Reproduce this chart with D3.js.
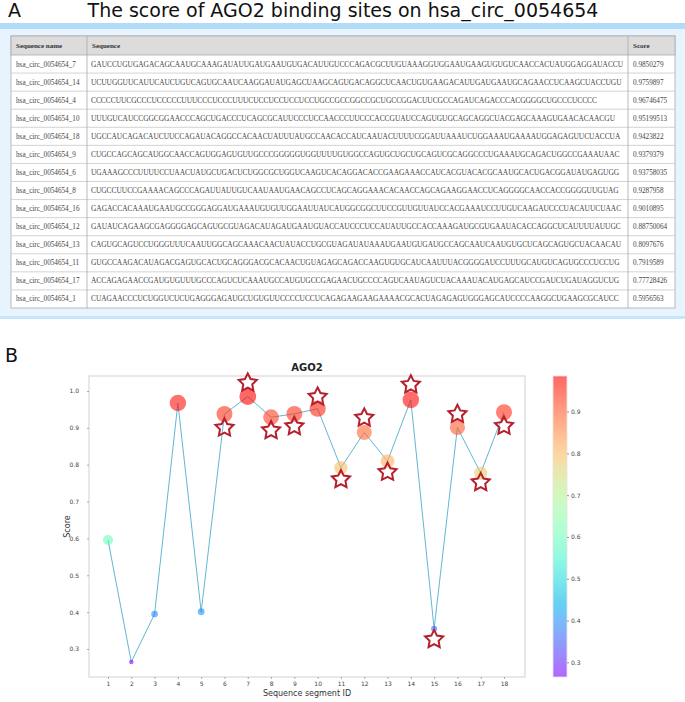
<!DOCTYPE html>
<html><head><meta charset="utf-8">
<script src="https://cdn.jsdelivr.net/npm/d3@7"></script>
<style>body{margin:0;background:#fff;} svg{display:block;}</style>
</head><body>
<svg id="c" width="685" height="702"></svg>
<script>
const names = ["hsa_circ_0054654_7","hsa_circ_0054654_14","hsa_circ_0054654_4","hsa_circ_0054654_10","hsa_circ_0054654_18","hsa_circ_0054654_9","hsa_circ_0054654_6","hsa_circ_0054654_8","hsa_circ_0054654_16","hsa_circ_0054654_12","hsa_circ_0054654_13","hsa_circ_0054654_11","hsa_circ_0054654_17","hsa_circ_0054654_1"];
const sequences = [
"GAUCCUGUGAGACAGCAAUGCAAAGAUAUUGAUGAAUGUGACAUUGUCCCAGACGCUUGUAAAGGUGGAAUGAAGUGUGUCAACCACUAUGGAGGAUACCU",
"UCUUGGUUCAUUCAUCUGUCAGUGCAAUCAAGGAUAUGAGCUAAGCAGUGACAGGCUCAACUGUGAAGACAUUGAUGAAUGCAGAACCUCAAGCUACCUGU",
"CCCCCUUCGCCCUCCCCCUUUCCCUCCCUUUCUCCUCCUCCUCCUGCCGCCGGCCGCUGCCGGACUUCGCCAGAUCAGACCCACGGGGCUGCCCUCCCC",
"UUUGUCAUCCGGCGGAACCCAGCUGACCCUCAGCGCAUUCCCUCCAACCCUUCCCACCGUAUCCAGUGUGCAGCAGGCUACGAGCAAAGUGAACACAACGU",
"UGCCAUCAGACAUCUUCCAGAUACAGGCCACAACUAUUUAUGCCAACACCAUCAAUACUUUUCGGAUUAAAUCUGGAAAUGAAAAUGGAGAGUUCUACCUA",
"CUGCCAGCAGCAUGGCAACCAGUGGAGUGUUGCCCGGGGGUGGUUUUGUGGCCAGUGCUGCUGCAGUCGCAGGCCCUGAAAUGCAGACUGGCCGAAAUAAC",
"UGAAAGCCCUUUUCCUAACUAUGCUGACUCUGGCGCUGGUCAAGUCACAGGACACCGAAGAAACCAUCACGUACACGCAAUGCACUGACGGAUAUGAGUGG",
"CUGCCUUCCGAAAACAGCCCAGAUUAUUGUCAAUAAUGAACAGCCUCAGCAGGAAACACAACCAGCAGAAGGAACCUCAGGGGCAACCACCGGGGUUGUAG",
"GAGACCACAAAUGAAUGCCGGGAGGAUGAAAUGUGUUGGAAUUAUCAUGGCGGCUUCCGUUGUUAUCCACGAAAUCCUUGUCAAGAUCCCUACAUUCUAAC",
"GAUAUCAGAAGCGAGGGGAGCAGUGCGUAGACAUAGAUGAAUGUACCAUCCCUCCAUAUUGCCACCAAAGAUGCGUGAAUACACCAGGCUCAUUUUAUUGC",
"CAGUGCAGUCCUGGGUUUCAAUUGGCAGCAAACAACUAUACCUGCGUAGAUAUAAAUGAAUGUGAUGCCAGCAAUCAAUGUGCUCAGCAGUGCUACAACAU",
"GUGCCAAGACAUAGACGAGUGCACUGCAGGGACGCACAACUGUAGAGCAGACCAAGUGUGCAUCAAUUUACGGGGAUCCUUUGCAUGUCAGUGCCCUCCUG",
"ACCAGAGAACCGAUGUGUUUGCCCAGUCUCAAAUGCCAUGUGCCGAGAACUGCCCCAGUCAAUAGUCUACAAAUACAUGAGCAUCCGAUCUGAUAGGUCUG",
"CUAGAACCCUCUGGUCUCUGAGGGAGAUGCUGUGUUCCCCUCCUCAGAGAAGAAGAAAACGCACUAGAGAGUGGGAGCAUCCCCAAGGCUGAAGCGCAUCC"];
const tableScores = ["0.9850279","0.9759897","0.96746475","0.95199513","0.9423822","0.9379379","0.93758035","0.9287958","0.9010895","0.88750064","0.8097676","0.7919589","0.77728426","0.5956563"];
const headers = ["Sequence name","Sequence","Score"];

const segmentIds = [1,2,3,4,5,6,7,8,9,10,11,12,13,14,15,16,17,18];
const segmentScores = [0.5956563,0.265,0.395,0.96746475,0.401,0.93758035,0.9850279,0.9287958,0.9379379,0.95199513,0.7919589,0.88750064,0.8097676,0.9759897,0.355,0.9010895,0.77728426,0.9423822];
const starSegments = [6,7,8,9,10,11,12,13,14,15,16,17,18];
const starValues = [0.900,1.022,0.893,0.904,0.984,0.760,0.927,0.780,1.017,0.326,0.937,0.752,0.905];
const yTicks = [0.3,0.4,0.5,0.6,0.7,0.8,0.9,1.0];
const cbTicks = [0.3,0.4,0.5,0.6,0.7,0.8,0.9];

const svg = d3.select("#c");

// ---------- Panel A ----------
svg.append("text").attr("x",8).attr("y",17).attr("font-family","DejaVu Sans").attr("font-size",19).attr("fill","#111").text("A");
svg.append("text").attr("x",343).attr("y",17).attr("text-anchor","middle").attr("font-family","DejaVu Sans").attr("font-size",19).attr("fill","#111").text("The score of AGO2 binding sites on hsa_circ_0054654");

svg.append("rect").attr("x",0).attr("y",23).attr("width",685).attr("height",296).attr("fill","#e7f4fd");
svg.append("rect").attr("x",0).attr("y",23).attr("width",685).attr("height",6).attr("fill","#b1dcf8");
svg.append("rect").attr("x",0).attr("y",316).attr("width",685).attr("height",3).attr("fill","#c5e5fa");

const colX = [11, 87, 628, 675];
const tTop = 36, headH = 19;
const rowScale = d3.scaleBand().domain(d3.range(names.length)).range([tTop+headH, 308]);
const tbl = svg.append("g");
tbl.append("rect").attr("x",colX[0]).attr("y",tTop).attr("width",colX[3]-colX[0]).attr("height",308-tTop).attr("fill","#fff").attr("stroke","#aaa").attr("stroke-width",0.8);
tbl.append("rect").attr("x",colX[0]).attr("y",tTop).attr("width",colX[3]-colX[0]).attr("height",headH).attr("fill","#dcdcdc").attr("stroke","#aaa").attr("stroke-width",0.8);
headers.forEach((h,i)=>{
  tbl.append("text").attr("x",colX[i]+5).attr("y",tTop+headH/2+2.5).attr("font-family","Liberation Serif").attr("font-weight","bold").attr("font-size",7).attr("fill","#333").text(h);
});
tbl.selectAll("line.r").data(d3.range(1,names.length)).join("line")
  .attr("x1",colX[0]).attr("x2",colX[3]).attr("y1",d=>rowScale(d)).attr("y2",d=>rowScale(d)).attr("stroke","#c8c8c8").attr("stroke-width",0.8);
[colX[1],colX[2]].forEach(x=>{
  tbl.append("line").attr("x1",x).attr("x2",x).attr("y1",tTop).attr("y2",308).attr("stroke","#aaa").attr("stroke-width",0.8);
});
const rows = tbl.selectAll("g.row").data(names.map((n,i)=>({n,s:sequences[i],v:tableScores[i],i}))).join("g");
rows.append("text").attr("x",colX[0]+5).attr("y",d=>rowScale(d.i)+rowScale.bandwidth()/2+2.5).attr("font-family","Liberation Serif").attr("font-size",7.2).attr("fill","#444").text(d=>d.n);
rows.append("text").attr("x",colX[1]+4).attr("y",d=>rowScale(d.i)+rowScale.bandwidth()/2+2.5).attr("font-family","Liberation Serif").attr("font-size",7.4).attr("fill","#444").text(d=>d.s);
rows.append("text").attr("x",colX[2]+5).attr("y",d=>rowScale(d.i)+rowScale.bandwidth()/2+2.5).attr("font-family","Liberation Serif").attr("font-size",7.2).attr("fill","#444").text(d=>d.v);

// ---------- Panel B ----------
svg.append("text").attr("x",5).attr("y",362).attr("font-family","DejaVu Sans").attr("font-size",19).attr("fill","#111").text("B");

const fr = {l:89, r:525, t:376, b:677};
const x = d3.scaleLinear().domain([1,18]).range([108,504]);
const y = d3.scaleLinear().domain([0.3,1.0]).range([649,391]);
const vmin = d3.min(segmentScores), vmax = d3.max(segmentScores);
function rainbow(t){
  const r = Math.min(1,Math.abs(2*t-0.5)), g = Math.sin(Math.PI*t), b = Math.cos(Math.PI*t/2);
  return d3.rgb(r*255,g*255,Math.max(0,b)*255);
}
const cnorm = d3.scaleLinear().domain([vmin,vmax]).range([0,1]).clamp(true);

svg.append("rect").attr("x",fr.l).attr("y",fr.t).attr("width",fr.r-fr.l).attr("height",fr.b-fr.t).attr("fill","#fff").attr("stroke","#dcdcdc").attr("stroke-width",1.3);
svg.append("text").attr("x",(fr.l+fr.r)/2).attr("y",fr.t-5).attr("text-anchor","middle").attr("font-family","DejaVu Sans").attr("font-weight","bold").attr("font-size",10).attr("fill","#222").text("AGO2");

const yAxis = d3.axisLeft(y).tickValues(yTicks).tickFormat(d3.format(".1f")).tickSize(2).tickPadding(8);
const gy = svg.append("g").attr("transform",`translate(${fr.l},0)`).call(yAxis);
const xAxis = d3.axisBottom(x).tickValues(segmentIds).tickSize(2).tickPadding(3);
const gx = svg.append("g").attr("transform",`translate(0,${fr.b})`).call(xAxis);
[gx,gy].forEach(g=>{
  g.select(".domain").remove();
  g.selectAll("line").attr("stroke","#777").attr("stroke-width",0.6);
  g.selectAll("text").attr("font-family","DejaVu Sans").attr("font-size",6).attr("fill","#444");
});
svg.append("text").attr("x",(fr.l+fr.r)/2).attr("y",fr.b+19).attr("text-anchor","middle").attr("font-family","DejaVu Sans").attr("font-size",8).attr("fill","#333").text("Sequence segment ID");
svg.append("text").attr("transform",`translate(70,${(fr.t+fr.b)/2}) rotate(-90)`).attr("text-anchor","middle").attr("font-family","DejaVu Sans").attr("font-size",8).attr("fill","#333").text("Score");

const pts = segmentIds.map((id,i)=>({id,v:segmentScores[i]}));
svg.append("path").datum(pts).attr("fill","none").attr("stroke","#62b7d4").attr("stroke-width",1)
  .attr("d",d3.line().x(d=>x(d.id)).y(d=>y(d.v)));
svg.selectAll("circle.pt").data(pts).join("circle").attr("class","pt")
  .attr("cx",d=>x(d.id)).attr("cy",d=>y(d.v)).attr("r",d=>8.5*d.v)
  .attr("fill",d=>rainbow(cnorm(d.v))).attr("fill-opacity",0.6);

function starPath(R){
  const r = R*0.5, p=[];
  for(let k=0;k<10;k++){
    const a = -Math.PI/2 + k*Math.PI/5, rr = k%2? r:R;
    p.push([rr*Math.cos(a), rr*Math.sin(a)]);
  }
  return "M"+p.map(q=>q.join(",")).join("L")+"Z";
}
svg.selectAll("path.star").data(starSegments.map((s,i)=>({s,v:starValues[i]}))).join("path").attr("class","star")
  .attr("transform",d=>`translate(${x(d.s)},${y(d.v)})`).attr("d",starPath(9.5))
  .attr("fill","none").attr("stroke","#b5202e").attr("stroke-width",2).attr("stroke-linejoin","miter");

// colorbar
const cb = {x:553, w:14, t:376, b:677};
const cby = d3.scaleLinear().domain([vmin,vmax]).range([cb.b,cb.t]);
const grad = svg.append("defs").append("linearGradient").attr("id","cbg").attr("x1",0).attr("y1",1).attr("x2",0).attr("y2",0);
grad.selectAll("stop").data(d3.range(0,1.0001,0.02)).join("stop")
  .attr("offset",d=>d).attr("stop-color",d=>rainbow(d)).attr("stop-opacity",0.6);
svg.append("rect").attr("x",cb.x).attr("y",cb.t).attr("width",cb.w).attr("height",cb.b-cb.t).attr("fill","url(#cbg)").attr("stroke","#e4e4e4").attr("stroke-width",0.8);
const cAxis = d3.axisRight(cby).tickValues(cbTicks).tickFormat(d3.format(".1f")).tickSize(2).tickPadding(2);
const gc = svg.append("g").attr("transform",`translate(${cb.x+cb.w},0)`).call(cAxis);
gc.select(".domain").remove();
gc.selectAll("line").attr("stroke","#555").attr("stroke-width",0.6);
gc.selectAll("text").attr("font-family","DejaVu Sans").attr("font-size",6).attr("fill","#444");
</script>
</body></html>
